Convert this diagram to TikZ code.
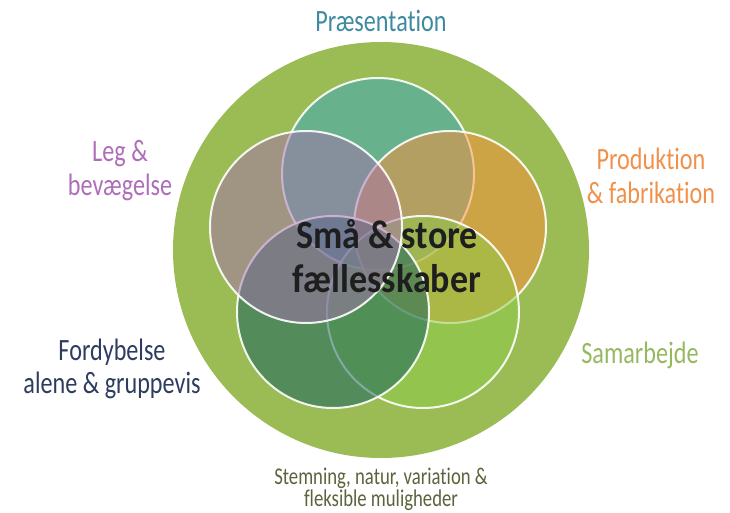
\documentclass[tikz,border=0pt]{standalone}
\usepackage{fontspec}
\setmainfont{Carlito}
\newfontfamily\condfont[FakeStretch=0.78,Ligatures=NoCommon]{Carlito}
\newfontfamily\titlefont[FakeStretch=0.9,Ligatures=NoCommon]{Carlito}
\definecolor{ground}{RGB}{155,188,85}
\definecolor{presfill}{RGB}{53,168,195}
\definecolor{prodfill}{RGB}{255,142,55}
\definecolor{samfill}{RGB}{141,204,71}
\definecolor{fordfill}{RGB}{15,92,95}
\definecolor{legfill}{RGB}{165,112,175}
\definecolor{prestext}{RGB}{62,138,160}
\definecolor{prodtext}{RGB}{240,145,75}
\definecolor{samtext}{RGB}{150,185,95}
\definecolor{fordtext}{RGB}{45,60,95}
\definecolor{legtext}{RGB}{175,110,185}
\definecolor{moodtext}{RGB}{90,100,60}
\definecolor{titletext}{RGB}{30,30,30}
\begin{document}
\begin{tikzpicture}[
  x=1pt, y=-1pt,
  area/.style={circle, minimum size=192pt, inner sep=0pt,
    fill opacity=0.5, draw=white, draw opacity=0.9, line width=2pt},
  tag/.style={align=center, anchor=base,
    font=\condfont\fontsize{31}{33}\selectfont}]
\useasboundingbox (0,0) rectangle (730,513);
%% ground and the five areas, clockwise from the top
\node [circle, fill=ground, minimum size=416pt, inner sep=0pt] (world) at (381,250) {};
\node [area, fill=presfill] (pres) at (378,174) {};
\node [area, fill=prodfill] (prod) at (450,227) {};
\node [area, fill=samfill] (sam) at (423,312) {};
\node [area, fill=fordfill] (ford) at (333,312) {};
\node [area, fill=legfill] (leg) at (306,227) {};
\node [align=center, anchor=base, text=titletext,
  font=\titlefont\bfseries\fontsize{40}{44}\selectfont] (core) at (387,292)
  {Små \& store\\fællesskaber};
%% labels (base = last line)
\node [tag, text=prestext] (presl) at (381,32) {Præsentation};
\node [tag, text=legtext] (legl) at (120,195) {Leg \&\\bevægelse};
\node [tag, text=prodtext] (prodl) at (651,203) {Produktion\\\& fabrikation};
\node [tag, text=fordtext] (fordl) at (112,393) {Fordybelse\\alene \& gruppevis};
\node [tag, text=samtext] (saml) at (640,363) {Samarbejde};
\node [tag, text=moodtext, font=\condfont\fontsize{24}{19}\selectfont] (mood) at (381,506)
  {Stemning, natur, variation \&\\fleksible muligheder};
\end{tikzpicture}
\end{document}
